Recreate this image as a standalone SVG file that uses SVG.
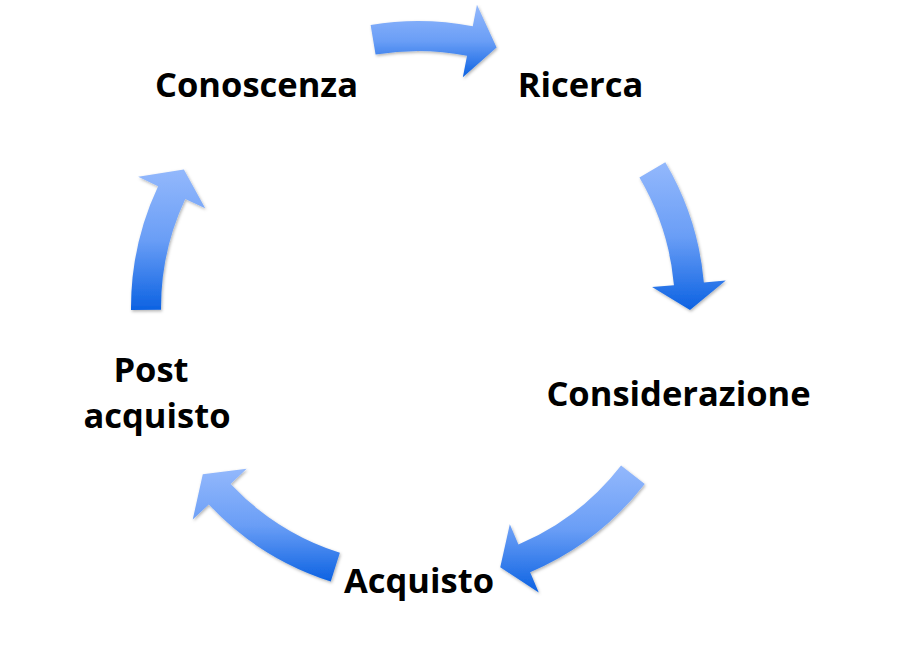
<svg xmlns="http://www.w3.org/2000/svg" width="900" height="665" viewBox="0 0 900 665">
  <style>
    .lbl { font-family: "Open Sans", "Liberation Sans", sans-serif; font-weight: 700; font-size: 34.5px; fill: #000; text-anchor: middle; }
    .arr { fill: url(#blueGrad); filter: url(#shadow); }
  </style>
  <defs>
    <linearGradient id="blueGrad" x1="0" y1="0" x2="0" y2="1">
      <stop offset="0" stop-color="#93b8fc"/>
      <stop offset="0.5" stop-color="#6a9ef6"/>
      <stop offset="1" stop-color="#0c62e2"/>
    </linearGradient>
    <filter id="shadow" x="-20%" y="-20%" width="140%" height="140%">
      <feDropShadow dx="1" dy="1.5" stdDeviation="1.5" flood-color="#000" flood-opacity="0.3"/>
    </filter>
  </defs>
  <rect width="900" height="665" fill="#fff"/>
  <g id="connectors">
    <path id="arrow-1" class="arr" d="M370.63,24.93 A287,287 0 0 1 472.76,26.27 L476.96,4.68 L496.62,47.61 L462.84,77.32 L467.04,55.72 A257,257 0 0 0 375.58,54.52 Z"/>
    <path id="arrow-2" class="arr" d="M665.29,162.34 A287,287 0 0 1 703.86,282.49 L725.78,280.53 L689.99,309.90 L652.07,287.11 L673.98,285.16 A257,257 0 0 0 639.44,177.56 Z"/>
    <path id="arrow-3" class="arr" d="M644.78,483.91 A287,287 0 0 1 530.14,572.18 L538.74,592.43 L500.24,567.27 L509.82,524.32 L518.42,544.57 A257,257 0 0 0 621.07,465.52 Z"/>
    <path id="arrow-4" class="arr" d="M330.74,581.41 A287,287 0 0 1 208.79,504.47 L192.75,519.53 L202.79,474.34 L246.69,468.87 L230.65,483.93 A257,257 0 0 0 339.86,552.83 Z"/>
    <path id="arrow-5" class="arr" d="M131.01,310.00 A287,287 0 0 1 158.10,186.16 L138.18,176.82 L183.88,169.54 L205.19,208.24 L185.27,198.90 A257,257 0 0 0 161.01,309.79 Z"/>
  </g>
  <g id="node-conoscenza"><text class="lbl" x="256.5" y="97">Conoscenza</text></g>
  <g id="node-ricerca"><text class="lbl" x="580.5" y="97">Ricerca</text></g>
  <g id="node-considerazione"><text class="lbl" x="678.5" y="406">Considerazione</text></g>
  <g id="node-acquisto"><text class="lbl" x="419" y="593">Acquisto</text></g>
  <g id="node-post-acquisto"><text class="lbl" x="151" y="382">Post</text><text class="lbl" x="157" y="428">acquisto</text></g>
</svg>
